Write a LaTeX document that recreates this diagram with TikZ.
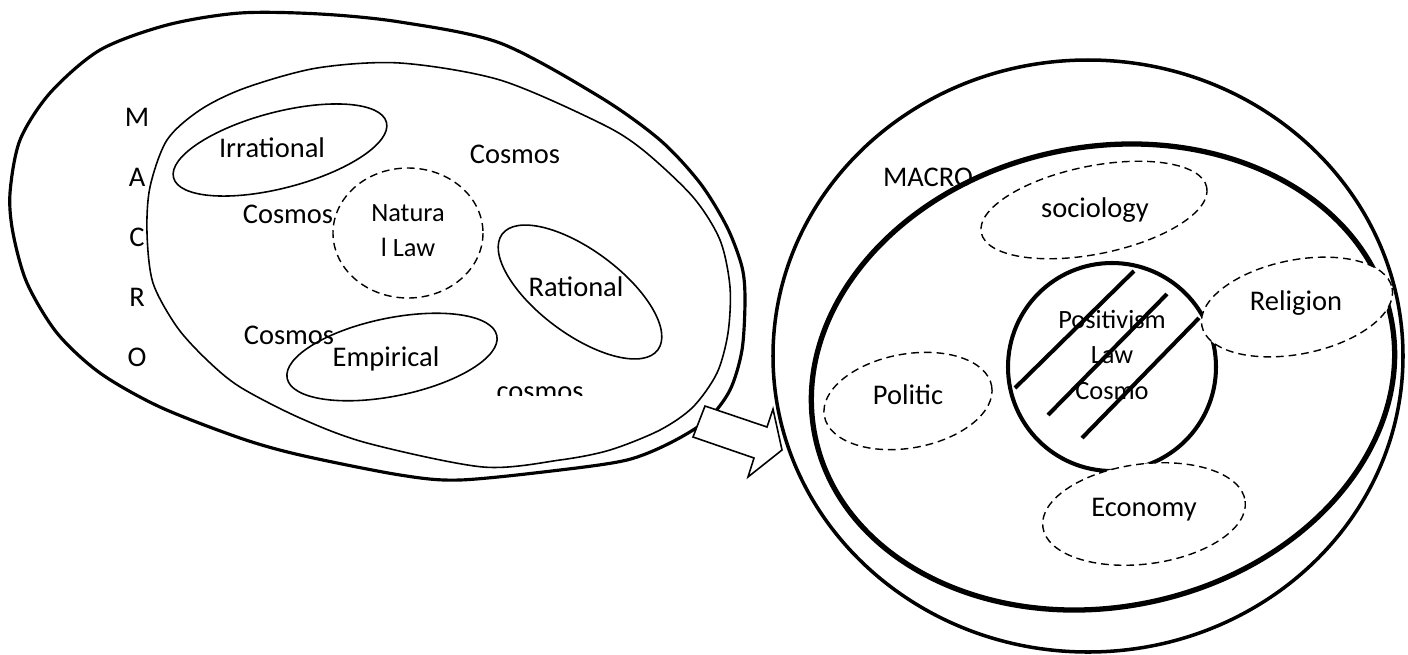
\documentclass[tikz,border=0pt]{standalone}
\usepackage{fontspec}
\setmainfont{Carlito}
\usepackage{tikz}

\begin{document}
\begin{tikzpicture}[x=0.01cm,y=-0.01cm,
  lbl/.style={inner sep=0pt,font=\fontsize{8.1}{9.7}\selectfont,text height=5.2pt,text depth=0pt},
  lblsmall/.style={inner sep=0pt,font=\fontsize{7.5}{9}\selectfont,text height=4.8pt,text depth=0pt},
  rim/.style={line width=0.9pt},
  fineline/.style={line width=0.45pt},
  heavy/.style={line width=1.5pt},
  dashring/.style={line width=0.4pt,dash pattern=on 2.2pt off 1.4pt,fill=white}]
   \useasboundingbox (0,0) rectangle (1408,654);

   \draw[rim] plot[smooth cycle] coordinates {(10,193) (20,140) (50,93) (100,50) (167,25) (240,13)
      (320,14) (400,22) (500,43) (600,97) (660,140) (700,183) (727,227) (742,267) (745,300)
      (742,350) (730,390) (707,420) (670,443) (627,460) (560,470) (460,480) (400,475)
      (300,455) (240,438) (160,407) (100,373) (57,333) (27,283) (13,233)};
   \draw[fineline] plot[smooth cycle] coordinates {(147,233) (150,187) (167,140) (200,110) (245,88)
      (317,68) (400,63) (500,80) (600,123) (643,150) (693,197) (720,240) (730,287) (728,333)
      (717,373) (693,407) (660,430) (610,450) (560,460) (483,467) (367,443) (300,418)
      (240,387) (207,360) (177,327) (153,283)};
   \draw[fineline,rotate around={14.6:(280,150)}] (280,150) ellipse (110 and 38);
   \draw[fineline,rotate around={-36.6:(580,292)}] (580,292) ellipse (97 and 42);
   \draw[fineline,rotate around={11.5:(392,357)}] (392,357) ellipse (107 and 39);
   \draw[dashring,fill=none] (408,233) ellipse (75 and 65);

    \draw (137,117) node[lbl] (m) {M};
    \draw (137,177) node[lbl] (a) {A};
    \draw (137,237) node[lbl] (c) {C};
    \draw (137,297) node[lbl] (r) {R};
    \draw (137,357) node[lbl] (o) {O};
    \draw (272,148) node[lbl] (irrational) {Irrational};
    \draw (515,154) node[lbl] (cosmosA) {Cosmos};
    \draw (288,214) node[lbl] (cosmosB) {Cosmos};
    \draw (289,335) node[lbl] (cosmosC) {Cosmos};
    \draw (408,213) node[lblsmall] (natura) {Natura};
    \draw (408,248) node[lblsmall] (law) {l Law};
    \draw (576,287) node[lbl] (rational) {Rational};
    \draw (386,357) node[lbl] (empirical) {Empirical};
   \begin{scope}
    \clip (470,370) rectangle (610,395);
    \draw (540,400) node[lbl,anchor=base] (cosmosD) {cosmos};
   \end{scope}

   \draw[fineline,fill=white] (693,437) -- (705,406) -- (767,427) -- (773,409) -- (782,450)
      -- (748,477) -- (754,458) -- cycle;

   \draw[line width=1pt] (1088,356) ellipse (315 and 296);
   \draw[heavy,rotate around={11.7:(1103,377)}] (1103,377) ellipse (294 and 230);
   \draw[line width=1.15pt] (1112,367) circle (104);
   \draw[line width=1.15pt] (1015,388) -- (1134,271);
   \draw[line width=1.15pt] (1048,415) -- (1167,294);
   \draw[line width=1.15pt] (1082,438) -- (1199,318);
   \draw[dashring,rotate around={11.4:(1094,210)}] (1094,210) ellipse (115 and 44);
   \draw[dashring,rotate around={11.3:(1297,307)}] (1297,307) ellipse (97 and 47);
   \draw[dashring,rotate around={10.2:(908,401)}] (908,401) ellipse (85 and 47);
   \draw[dashring,rotate around={7.3:(1144,514)}] (1144,514) ellipse (102 and 50);

    \draw (928,177) node[lbl] (macro) {MACRO};
    \draw (1095,208) node[lbl] (sociology) {sociology};
    \draw (1296,301) node[lbl] (religion) {Religion};
    \draw (908,395) node[lbl] (politic) {Politic};
    \draw (1144,507) node[lbl] (economy) {Economy};
    \draw (1112,320) node[lblsmall] (positivism) {Positivism};
    \draw (1112,355) node[lblsmall] (lawR) {Law};
    \draw (1112,391) node[lblsmall] (cosmo) {Cosmo};
\end{tikzpicture}
\end{document}
